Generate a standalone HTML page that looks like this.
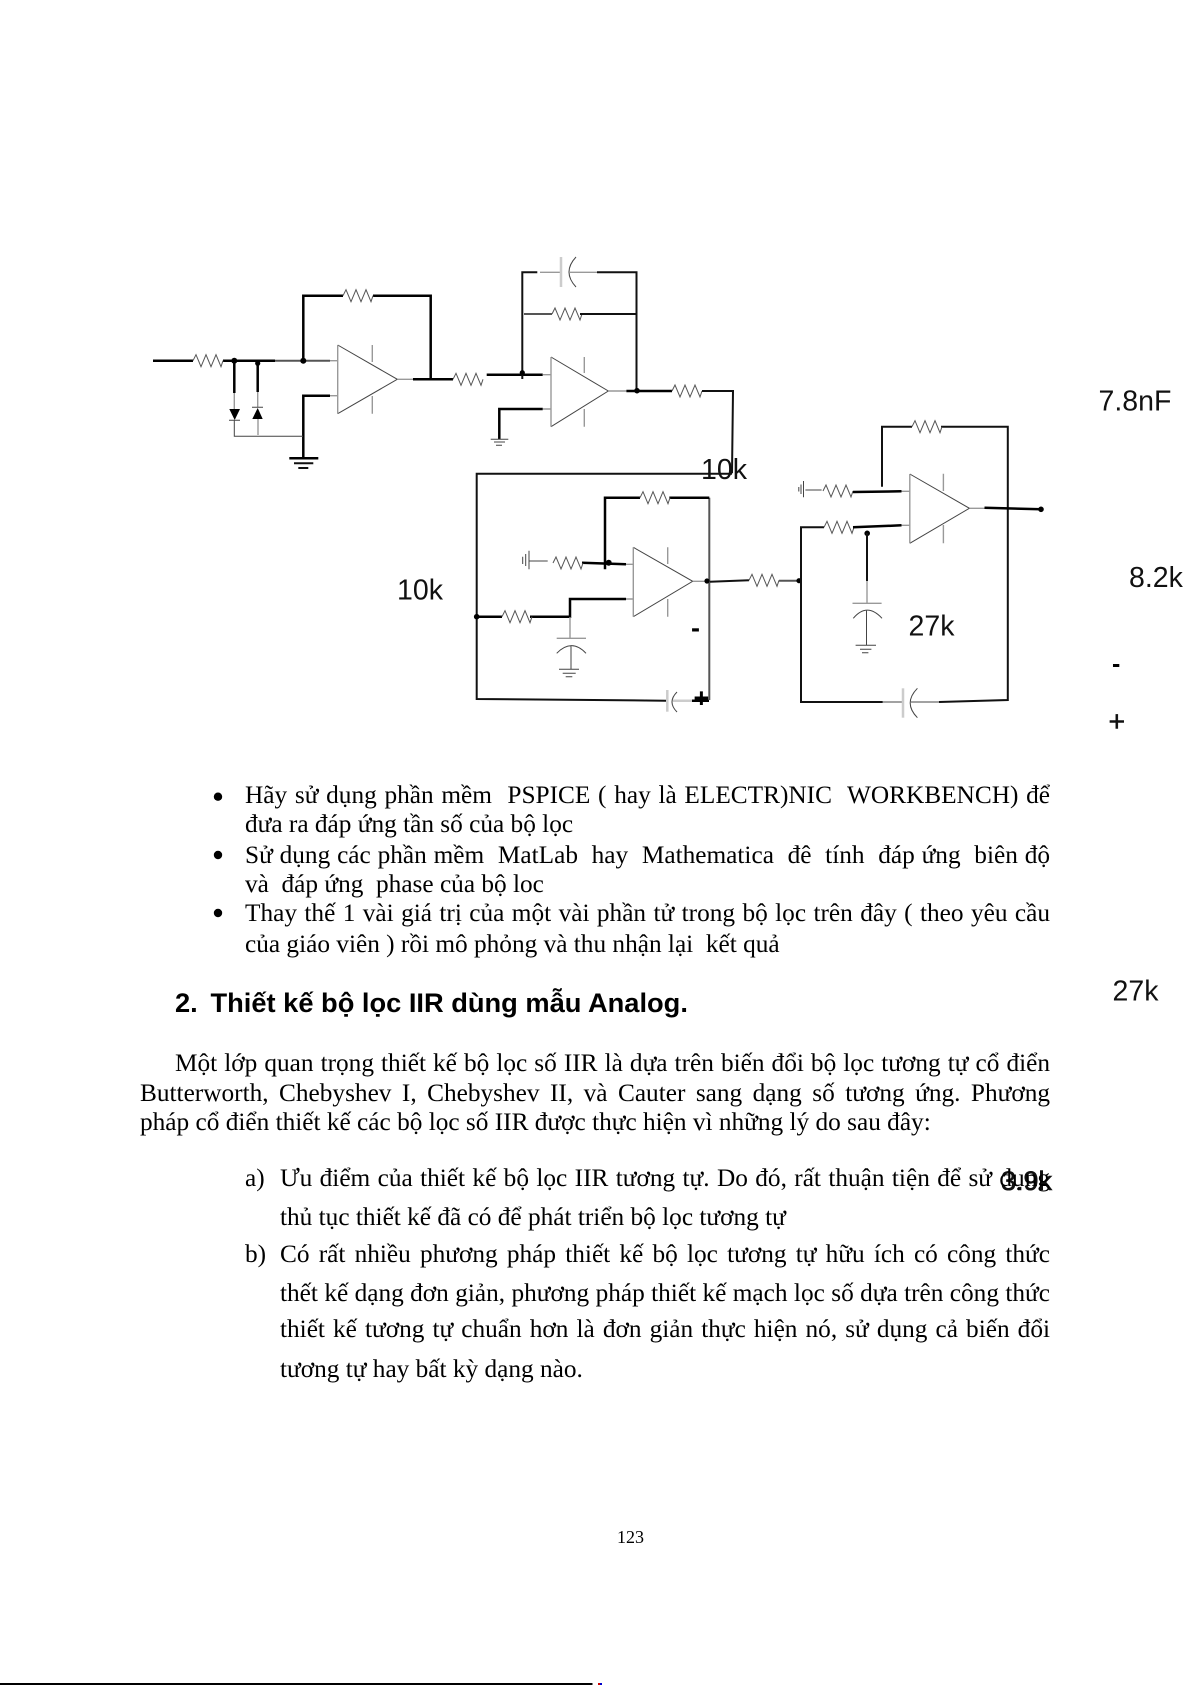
<!DOCTYPE html>
<html lang="vi"><head><meta charset="utf-8"><title>123</title>
<style>
html,body{margin:0;padding:0;background:#fff}
#p{position:relative;width:1191px;height:1685px;overflow:hidden;background:#fff;color:#000}
.l{position:absolute;font:25.3px/30px "Liberation Serif","Noto Serif CJK SC",serif;height:30px;white-space:nowrap}
.j{text-align:justify;text-align-last:justify}
.h{position:absolute;font:bold 27.25px/32px "Liberation Sans","Noto Sans CJK SC",sans-serif;white-space:nowrap}
svg{position:absolute;left:0;top:0}
.t{stroke:#000;stroke-width:2.5;fill:none}
.m{stroke:#111;stroke-width:2;fill:none}
.d{stroke:#555;stroke-width:2;fill:none}
.g{stroke:#999;stroke-width:1.4;fill:none}
.n{stroke:#444;stroke-width:1;fill:none}
.c{stroke:#ccc;stroke-width:2.5;fill:none}
.lb{font-family:"Liberation Sans",sans-serif;font-size:28.5px;fill:#111}
.sb{font-family:"Liberation Sans",sans-serif;font-weight:bold;fill:#000}
</style></head><body><div id="p">
<svg width="1191" height="1685" viewBox="0 0 1191 1685" xmlns="http://www.w3.org/2000/svg">
<defs><path id="r" d="M0 0L3-6L8 6L13-6L18 6L23-6L28 6L30 0" fill="none" stroke="#555" stroke-width="1"/></defs>

<!-- stage 1 -->
<path class="t" d="M153 360.7H193M223 360.7H275"/><path class="d" d="M275 360.7H330"/><path class="g" d="M330 360.7H337"/><use href="#r" x="193" y="360.7"/>
<circle cx="234.3" cy="360.7" r="3"/><circle cx="257.7" cy="363.3" r="2.6"/><circle cx="303.3" cy="360.7" r="3"/>
<path class="t" d="M303.3 360.7V295.7H343M373 295.7H430.7V379.3M413 379.3H453"/><use href="#r" x="343" y="295.7"/>
<path class="n" d="M337.7 345L397.3 379.3L337.7 413.7"/><path class="g" d="M337.7 345V413.7M372.3 345V362M372.3 396V413.7M397.3 379.3H413"/>
<path class="t" d="M330 395.7H303.3V458.3"/><path class="g" d="M330 395.7H337.7"/>
<path class="t" d="M234.3 360.7V393M257.7 363V392"/><path class="g" d="M234.3 393V409M257.7 392V407"/>
<path d="M229.3 409H240L234.7 420Z M257.7 408L262.7 419H252.3Z"/>
<path class="n" d="M229 420.3H240M252 407.3H263M234.3 420V436.3H303"/><path class="g" d="M258 419V435"/>
<path class="t" d="M289.3 458.3H318.3"/><path class="m" d="M294 463.3H313.3M298.3 468H308.3"/>

<!-- stage 2 -->
<use href="#r" x="453" y="379.3"/>
<path class="t" d="M486.7 374.7H542.7"/><path class="g" d="M542.7 374.7H551M542.7 409H551"/>
<path class="m" d="M522.3 379V272.3H537.3"/><circle cx="522.3" cy="372.7" r="2.6"/>
<path class="g" d="M540 272.3H561M570 272.3H597"/><path class="c" d="M561 257V287"/><path class="n" d="M576 257Q562 272 576 287"/>
<path class="m" d="M597 272.3H636.5V391"/>
<path class="d" d="M524 314H552"/><use href="#r" x="552" y="314"/><path class="m" d="M580 314H636"/>
<path class="n" d="M551 357L608.3 391L551 426.7"/><path class="g" d="M551 357V426.7M584.3 357V373M584.3 409V426.7M608.3 391H626.4"/>
<path class="t" d="M542.7 409H499.3V439.3"/>
<path class="n" d="M490.7 439.3H508.3M494 442H505M496 445.3H502"/>
<path class="t" d="M626.4 391H672"/><circle cx="637" cy="390.7" r="2.8"/><use href="#r" x="672" y="391"/>
<path class="m" d="M702 391H733L732 473.3"/>

<!-- box 3 -->
<path class="m" d="M732 473.7H476.7V699L666 700.7"/>
<path class="t" d="M476.7 616.7H502M530 616.7H570V599H626"/><use href="#r" x="502" y="616.7"/>
<circle cx="476.7" cy="616.7" r="2.8"/>
<path class="c" d="M667.3 690V711.7"/><path class="n" d="M677 692Q667 702 677 712"/><path class="c" d="M673 700.7H692"/>
<path class="t" d="M692 700.7H709"/><path class="d" d="M709.3 497.7V700"/>
<path class="t" d="M605 569.3V497.7H640M669.3 497.7H709.3"/><use href="#r" x="640" y="497.7"/>
<circle cx="608.7" cy="562.7" r="3"/><path class="t" d="M582 562.7L626 564.3"/><path class="g" d="M626 564.3H633.3M626 599H633.3"/>
<use href="#r" x="553" y="563"/>
<path class="n" d="M529 550.7V569.3M525.7 554V566M522.7 556.7V564M529 561H547.7"/>
<path class="n" d="M633.3 547.3L692.7 581.3L633.3 616.7"/><path class="g" d="M633.3 547.3V616.7M667.7 547.3V564M667.7 599V616.7M692.7 581.3H707"/>
<circle cx="707" cy="581" r="2.6"/>
<path class="g" d="M570 617V638.3"/><path class="g" d="M556.7 638.3H586"/><path class="n" d="M556.7 653.3Q571.7 638 586 653.3M571 646V669.3M559 669.3H579M562.7 673.3H575.7M565.7 676.7H572.3"/>

<!-- link -->
<path class="m" d="M710 581.7L749 580.3"/><use href="#r" x="749" y="580.3"/><path class="d" d="M779 580.7H799"/><circle cx="799" cy="580.7" r="2.6"/>

<!-- stage 4 -->
<path class="n" d="M803.5 481V497.3M801 484.5V494M798.8 487V491.5M805.4 490H821.6"/><use href="#r" x="823" y="491"/>
<path class="t" d="M853 492L901.5 491.3"/><path class="g" d="M901.5 491.3H909.8M901.5 525.3H909.8"/>
<path class="m" d="M882 486.7V426.7H912M941 426.7H1007.8V700L939 702"/><use href="#r" x="912" y="426.7"/>
<path class="n" d="M909.8 474L969.4 508.3L909.8 543.3"/><path class="g" d="M909.8 474V543.3M943.4 473.7V491M943.4 525V543.3M969.4 508.3H984.5"/>
<path class="t" d="M984.5 507.7L1041 509.3"/><circle cx="1041" cy="509.3" r="2.8"/>
<path class="m" d="M824 527.3H801V702H882.7"/><use href="#r" x="824" y="527.3"/><path class="t" d="M853 527.3L901.5 525.3"/>
<path class="n" d="M882.7 702H903M911 702H939"/><path class="c" d="M903 688.3V717.7"/><path class="n" d="M917.4 688.3Q903 703 917.4 717.7"/>
<circle cx="867.2" cy="533.3" r="2.8"/><path class="m" d="M867 533V581"/><path class="g" d="M867 581V603.3M852.5 603.3H881.6"/>
<path class="n" d="M853.3 618.3Q867 602 882 618.3M866.5 610V645M855.6 645.3H876M860 649.3H871.4M862 652.7H868.4"/>

<!-- labels -->
<text class="lb" x="701" y="479">10k</text>
<text class="lb" x="397" y="599.5">10k</text>
<text class="lb" x="908.5" y="635.5">27k</text>
<text class="lb" x="1098.5" y="410.5">7.8nF</text>
<text class="lb" x="1129" y="587">8.2k</text>
<text class="lb" x="1112.5" y="1000.5">27k</text>
<text class="lb" x="1001" y="1190" style="font-size:27px;stroke:#111;stroke-width:.6">3.9k</text>
<text class="sb" x="691" y="637" font-size="27">-</text>
<text class="sb" x="693.5" y="707" font-size="27">+</text>
<text class="sb" x="1112" y="672" font-size="25">-</text>
<text class="lb" x="1108.5" y="731" style="stroke:#111;stroke-width:.5">+</text>
<text x="617" y="1543" font-family="Liberation Serif,serif" font-size="18">123</text>
<circle cx="218" cy="796.7" r="4.2"/><circle cx="218" cy="855" r="4.2"/><circle cx="218" cy="913" r="4.2"/>
<rect x="0" y="1683" width="592.5" height="2"/>
<rect x="598" y="1683" width="2" height="2" fill="#c00"/><rect x="600" y="1683" width="2" height="2" fill="#00c"/>
</svg>

<div class="l j" style="left:245px;top:779.5px;width:805px">Hãy sử dụng phần mềm&nbsp; PSPICE ( hay là ELECTR)NIC&nbsp; WORKBENCH) để</div>
<div class="l" style="left:245px;top:808.5px">đưa ra đáp ứng tần số của bộ lọc</div>
<div class="l j" style="left:245px;top:839.5px;width:805px">Sử dụng các phần mềm&nbsp; MatLab&nbsp; hay&nbsp; Mathematica&nbsp; đê&nbsp; tính&nbsp; đáp ứng&nbsp; biên độ</div>
<div class="l" style="left:245px;top:868.5px">và&nbsp; đáp ứng&nbsp; phase của bộ loc</div>
<div class="l j" style="left:245px;top:897.5px;width:805px">Thay thế 1 vài giá trị của một vài phần tử trong bộ lọc trên đây ( theo yêu cầu</div>
<div class="l" style="left:245px;top:929px">của giáo viên ) rồi mô phỏng và thu nhận lại&nbsp; kết quả</div>
<div class="h" style="left:175px;top:987px">2.</div>
<div class="h" style="left:210.5px;top:987px">Thiết kế bộ lọc IIR dùng mẫu Analog.</div>
<div class="l j" style="left:175px;top:1047.5px;width:875px">Một lớp quan trọng thiết kế bộ lọc số IIR là dựa trên biến đổi bộ lọc tương tự cổ điển</div>
<div class="l j" style="left:140px;top:1077.5px;width:910px">Butterworth, Chebyshev I, Chebyshev II, và Cauter sang dạng số tương ứng. Phương</div>
<div class="l" style="left:140px;top:1106.5px">pháp cổ điển thiết kế các bộ lọc số IIR được thực hiện vì những lý do sau đây:</div>
<div class="l" style="left:245px;top:1162.5px">a)</div>
<div class="l j" style="left:280px;top:1162.5px;width:770px">Ưu điểm của thiết kế bộ lọc IIR tương tự. Do đó, rất thuận tiện để sử dụng</div>
<div class="l" style="left:280px;top:1201.5px">thủ tục thiết kế đã có để phát triển bộ lọc tương tự</div>
<div class="l" style="left:245px;top:1238.5px">b)</div>
<div class="l j" style="left:280px;top:1238.5px;width:770px">Có rất nhiều phương pháp thiết kế bộ lọc tương tự hữu ích có công thức</div>
<div class="l j" style="left:280px;top:1277.5px;width:770px">thết kế dạng đơn giản, phương pháp thiết kế mạch lọc số dựa trên công thức</div>
<div class="l j" style="left:280px;top:1314px;width:770px">thiết kế tương tự chuẩn hơn là đơn giản thực hiện nó, sử dụng cả biến đổi</div>
<div class="l" style="left:280px;top:1353.5px">tương tự hay bất kỳ dạng nào.</div>
</div></body></html>
